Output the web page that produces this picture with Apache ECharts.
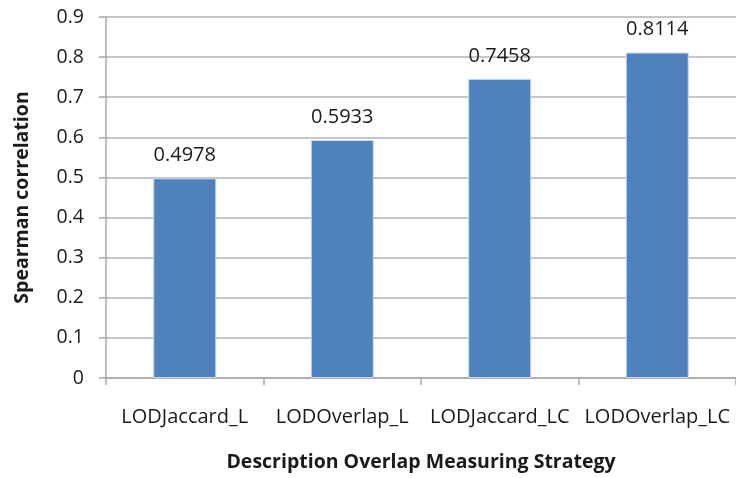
<!DOCTYPE html>
<html>
<head>
<meta charset="utf-8">
<script src="https://cdn.jsdelivr.net/npm/echarts@6/dist/echarts.min.js"></script>
<style>
  html, body { margin: 0; padding: 0; background: #fff; }
  #chart { width: 736px; height: 478px; }
</style>
</head>
<body>
<div id="chart"></div>
<script>
// Strategy names along the x axis and their Spearman correlations
const categories = ['LODJaccard_L', 'LODOverlap_L', 'LODJaccard_LC', 'LODOverlap_LC'];
const correlations = [0.4978, 0.5933, 0.7458, 0.8114];
const yTicks = [0, 0.1, 0.2, 0.3, 0.4, 0.5, 0.6, 0.7, 0.8, 0.9];

const FONT = '"Open Sans", "Liberation Sans", sans-serif';
const chart = echarts.init(document.getElementById('chart'));

chart.setOption({
  animation: false,
  backgroundColor: '#ffffff',
  grid: { left: 106, top: 17, right: 0, bottom: 100 },
  xAxis: {
    type: 'category',
    data: categories,
    name: 'Description Overlap Measuring Strategy',
    nameLocation: 'middle',
    nameGap: 74,
    nameTextStyle: { fontFamily: FONT, fontSize: 19.5, fontWeight: 'bold', color: '#1a1a1a' },
    axisLine: { lineStyle: { color: '#a6a6a6', width: 1.5 } },
    axisTick: { show: true, interval: 0, length: 7, lineStyle: { color: '#a6a6a6', width: 1.5 } },
    axisLabel: {
      interval: 0, hideOverlap: false,
      fontFamily: FONT, fontSize: 20, color: '#1a1a1a', margin: 29
    }
  },
  yAxis: {
    type: 'value',
    min: yTicks[0],
    max: yTicks[yTicks.length - 1],
    interval: 0.1,
    name: 'Spearman correlation',
    nameLocation: 'middle',
    nameGap: 74,
    nameTextStyle: { fontFamily: FONT, fontSize: 19.5, fontWeight: 'bold', color: '#1a1a1a' },
    axisLine: { show: true, lineStyle: { color: '#a6a6a6', width: 1.5 } },
    axisTick: { show: true, length: 7, lineStyle: { color: '#a6a6a6', width: 1.5 } },
    axisLabel: {
      fontFamily: FONT, fontSize: 19.5, color: '#1a1a1a', margin: 22,
      formatter: v => String(Math.round(v * 10) / 10)
    },
    splitLine: { show: true, lineStyle: { color: '#b3b3b3', width: 1.5 } }
  },
  series: [{
    type: 'bar',
    data: correlations,
    barWidth: '40%',
    itemStyle: { color: '#4f81bd', borderColor: '#c9daf0', borderWidth: 1 },
    label: {
      show: true,
      position: 'top',
      distance: 13,
      fontFamily: FONT,
      fontSize: 20,
      color: '#1a1a1a',
      formatter: p => p.value.toFixed(4)
    }
  }]
});
</script>
</body>
</html>
